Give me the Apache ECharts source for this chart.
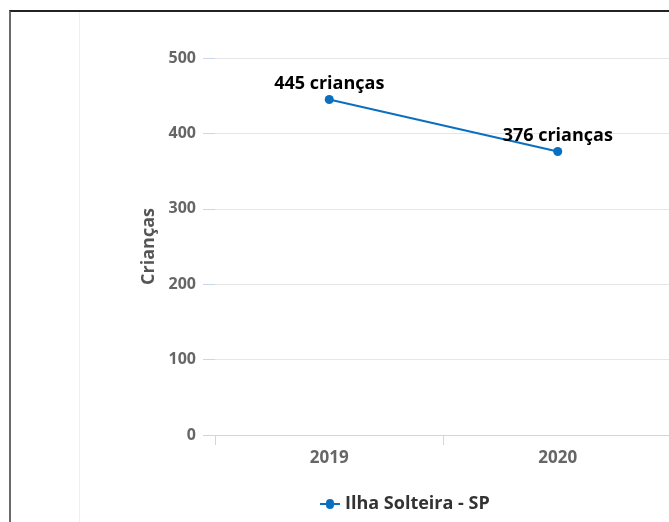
<!DOCTYPE html>
<html>
<head>
<meta charset="utf-8">
<script src="https://cdn.jsdelivr.net/npm/echarts@6/dist/echarts.min.js"></script>
<style>
  html, body { margin: 0; padding: 0; background: #fff; overflow: hidden; }
  #chart { position: absolute; left: 0; top: 0; width: 680px; height: 522px; }
  #frame { position: absolute; left: 9px; top: 10px; width: 700px; height: 600px;
           border-top: 2px solid #222; border-left: 2px solid #6a6a6a; pointer-events: none; }
</style>
</head>
<body>
<div id="chart"></div>
<div id="frame"></div>
<script>
// Children counted per year in the municipality
const years = ['2019', '2020'];
const criancas = [445, 376];
const seriesName = 'Ilha Solteira - SP';
const yTicks = { min: 0, max: 500, step: 100 };

const font = '"Open Sans", Lato, sans-serif';
const chart = echarts.init(document.getElementById('chart'), null, { renderer: 'canvas' });

chart.setOption({
  backgroundColor: 'transparent',
  animation: false,
  textStyle: { fontFamily: font },
  grid: { left: 215, right: 8, top: 58, bottom: 87, containLabel: false },
  graphic: [{
    type: 'line',
    shape: { x1: 79.5, y1: 12, x2: 79.5, y2: 522 },
    style: { stroke: '#f0f0f0', lineWidth: 1 }
  }],
  legend: {
    left: 315, top: 490,
    itemWidth: 20, itemHeight: 10, itemGap: 20,
    textStyle: { fontFamily: font, fontSize: 18, fontWeight: 'bold', color: '#333' },
    data: [{ name: seriesName, icon: 'path://M0,4 L6,4 A3.5,3.5 0 1 1 14,4 L20,4 L20,6 L14,6 A3.5,3.5 0 1 1 6,6 L0,6 Z' }]
  },
  xAxis: {
    type: 'category',
    data: years,
    boundaryGap: true,
    axisLine: { show: true, lineStyle: { color: '#ccd6eb', width: 1 } },
    axisTick: { show: true, length: 10, lineStyle: { color: '#ccd6eb' } },
    axisLabel: { margin: 15, fontSize: 17, fontWeight: 'bold', color: '#666', fontFamily: font },
    splitLine: { show: false }
  },
  yAxis: {
    type: 'value',
    min: yTicks.min, max: yTicks.max, interval: yTicks.step,
    name: 'Crianças',
    nameLocation: 'middle',
    nameRotate: 90,
    nameGap: 56,
    nameTextStyle: { fontSize: 18, fontWeight: 'bold', color: '#555', fontFamily: font },
    axisLine: { show: false },
    axisTick: { show: true, length: 12, inside: false, lineStyle: { color: '#ccd6eb' } },
    axisLabel: { margin: 19, fontSize: 16, fontWeight: 'bold', color: '#666', fontFamily: font },
    splitLine: { show: true, lineStyle: { color: '#e6e6e6', width: 1 } }
  },
  series: [{
    name: seriesName,
    type: 'line',
    data: criancas,
    color: '#0b6fbf',
    lineStyle: { width: 2, color: '#0b6fbf' },
    symbol: 'circle',
    symbolSize: 9,
    itemStyle: { color: '#0b6fbf' },
    label: {
      show: true,
      position: 'top',
      distance: 2,
      formatter: p => p.value + ' crianças',
      fontSize: 18, fontWeight: 'bold', color: '#000', fontFamily: font
    }
  }]
});
</script>
</body>
</html>
